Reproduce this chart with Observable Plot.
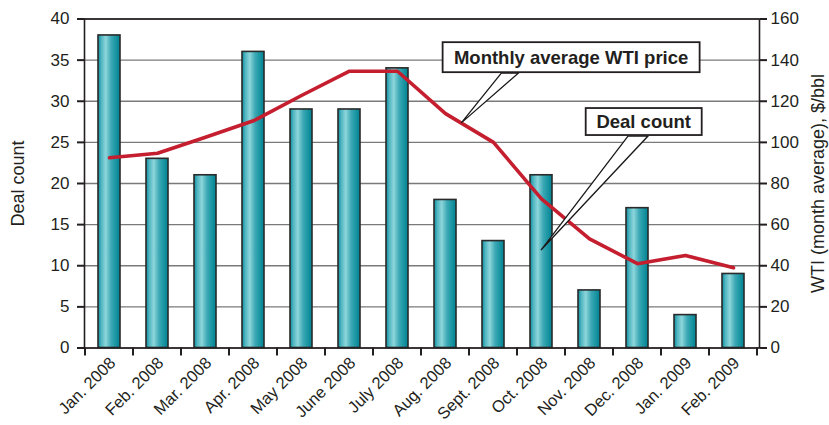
<!DOCTYPE html>
<html><head><meta charset="utf-8">
<script src="https://cdn.jsdelivr.net/npm/d3@7"></script>
<script src="https://cdn.jsdelivr.net/npm/@observablehq/plot@0.6"></script>
<style>
body{margin:0;background:#fff;}
g[aria-label="axis-title"] text{letter-spacing:1.2px;}
g[aria-label="x-labels"] text, g[aria-label="y-axis"] text, g[aria-label="y-axis-right"] text{letter-spacing:0.4px;}
</style>
</head><body><div id="chart"></div>
<script>
const months = ["Jan. 2008","Feb. 2008","Mar. 2008","Apr. 2008","May 2008","June 2008","July 2008","Aug. 2008","Sept. 2008","Oct. 2008","Nov. 2008","Dec. 2008","Jan. 2009","Feb. 2009"];
const dealCounts = [38,23,21,36,29,29,34,18,13,21,7,17,4,9];
const wtiPrice = [92.5,94.7,102.5,110.5,122.8,134.6,134.6,114,100,72.5,53.1,41,45,39];
const leftTicks = [0,5,10,15,20,25,30,35,40];
const rightTicks = [0,20,40,60,80,100,120,140,160];
const leftTitle = "Deal count";
const rightTitle = "WTI (month average), $/bbl";
const lineLabel = "Monthly average WTI price";
const barLabel = "Deal count";
const ratio = rightTicks[rightTicks.length-1] / leftTicks[leftTicks.length-1];

const data = months.map((m,i)=>({month:m, deals:dealCounts[i], wti:wtiPrice[i]}));

function gradientDefs() {
  const svgNS = "http://www.w3.org/2000/svg";
  const defs = document.createElementNS(svgNS, "defs");
  defs.innerHTML = `<linearGradient id="barGrad" x1="0" x2="1" y1="0" y2="0">
    <stop offset="0" stop-color="#0e8d9d"/>
    <stop offset="0.15" stop-color="#4fb6c1"/>
    <stop offset="0.35" stop-color="#8dd5db"/>
    <stop offset="0.6" stop-color="#3aa8b4"/>
    <stop offset="1" stop-color="#008393"/>
  </linearGradient>`;
  return defs;
}

function boundaryTicks(index, scales) {
  const x = scales.x, y = scales.y;
  const bw = x.bandwidth(), st = x.step();
  const x0 = x(months[0]) - (st - bw) / 2;
  const y0 = y(0);
  const g = d3.create("svg:g").attr("stroke", "#231f20").attr("stroke-width", 2);
  for (let i = 0; i <= months.length; i++) {
    g.append("line").attr("x1", x0 + i*st).attr("x2", x0 + i*st).attr("y1", y0).attr("y2", y0 + 8);
  }
  return g.node();
}

function annotations(index, scales) {
  const x = scales.x, y = scales.y;
  const bw = x.bandwidth(), st = x.step();
  const g = d3.create("svg:g");
  const iA = months.indexOf("Aug. 2008"), t = 0.34;
  const tip1 = [x(months[iA]) + bw/2 + t*st, y((wtiPrice[iA] + t*(wtiPrice[iA+1]-wtiPrice[iA]))/ratio)];
  const iO = months.indexOf("Oct. 2008");
  const tip2 = [x(months[iO]) + bw/2, y(11.85)];
  const callouts = [
    {tip: tip1, box:[-18.7, -80.7, 257, 30], base:[40, 57], text: lineLabel},
    {tip: tip2, box:[44.7, -142, 116, 27], base:[87, 107], text: barLabel}
  ];
  for (const c of callouts) {
    const [tx, ty] = c.tip;
    const bx = tx + c.box[0], by = ty + c.box[1], bw2 = c.box[2], bh = c.box[3];
    g.append("path")
      .attr("d", `M${tx},${ty}L${tx + c.base[0]},${by + bh + 1}L${tx + c.base[1]},${by + bh + 1}Z`)
      .attr("fill", "#fff").attr("stroke", "#1a1a1a").attr("stroke-width", 1.3).attr("stroke-linejoin", "miter");
    g.append("rect").attr("x", bx).attr("y", by).attr("width", bw2).attr("height", bh)
      .attr("fill", "#fff").attr("stroke", "#231f20").attr("stroke-width", 1.8);
    g.append("text").attr("x", bx + bw2/2).attr("y", by + bh/2).attr("dy", "0.36em")
      .attr("text-anchor", "middle").attr("font-weight", "bold").attr("font-size", 18.5)
      .attr("fill", "#231f20").text(c.text);
  }
  return g.node();
}

const plot = Plot.plot({
  width: 829,
  height: 425,
  marginLeft: 84,
  marginRight: 70,
  marginTop: 18.5,
  marginBottom: 77.5,
  style: {fontFamily: "'Liberation Sans', Arial, sans-serif", fontSize: "17px", color: "#231f20", background: "#fff"},
  x: {domain: months, paddingInner: 0.54, paddingOuter: 0.27, axis: null},
  y: {domain: [0, 40]},
  marks: [
    gradientDefs,
    Plot.gridY(leftTicks, {stroke: "#7a7a7a", strokeOpacity: 1, strokeWidth: 1.3}),
    Plot.barY(data, {x: "month", y: "deals", fill: "url(#barGrad)", stroke: "#2a2a2a", strokeWidth: 1.6}),
    Plot.line(data, {x: "month", y: d => d.wti / ratio, stroke: "#c41e2f", strokeWidth: 3.6, curve: "linear"}),
    annotations,
    Plot.frame({stroke: "#231f20", strokeWidth: 1.6}),
    Plot.axisY(leftTicks, {anchor: "left", tickSize: 7, tickPadding: 8, strokeWidth: 2, label: null, ariaLabel: "y-axis"}),
    Plot.axisY(leftTicks, {anchor: "right", tickSize: 7, tickPadding: 4, strokeWidth: 2, label: null, tickFormat: d => String(d * ratio), ariaLabel: "y-axis-right"}),
    boundaryTicks,
    Plot.text(data, {x: "month", y: () => 0, text: "month", rotate: -45, textAnchor: "end", lineAnchor: "bottom", dx: 7, dy: 16, fontSize: 16.5, fill: "#231f20", ariaLabel: "x-labels"}),
    Plot.text([leftTitle], {frameAnchor: "left", dx: -66, rotate: -90, text: d => d, textAnchor: "middle", lineAnchor: "middle", fontSize: 18, fill: "#231f20", ariaLabel: "axis-title"}),
    Plot.text([rightTitle], {frameAnchor: "right", dx: 59, rotate: -90, text: d => d, textAnchor: "middle", lineAnchor: "middle", fontSize: 18, fill: "#231f20", ariaLabel: "axis-title"})
  ]
});
document.getElementById("chart").appendChild(plot);
</script>
</body></html>
